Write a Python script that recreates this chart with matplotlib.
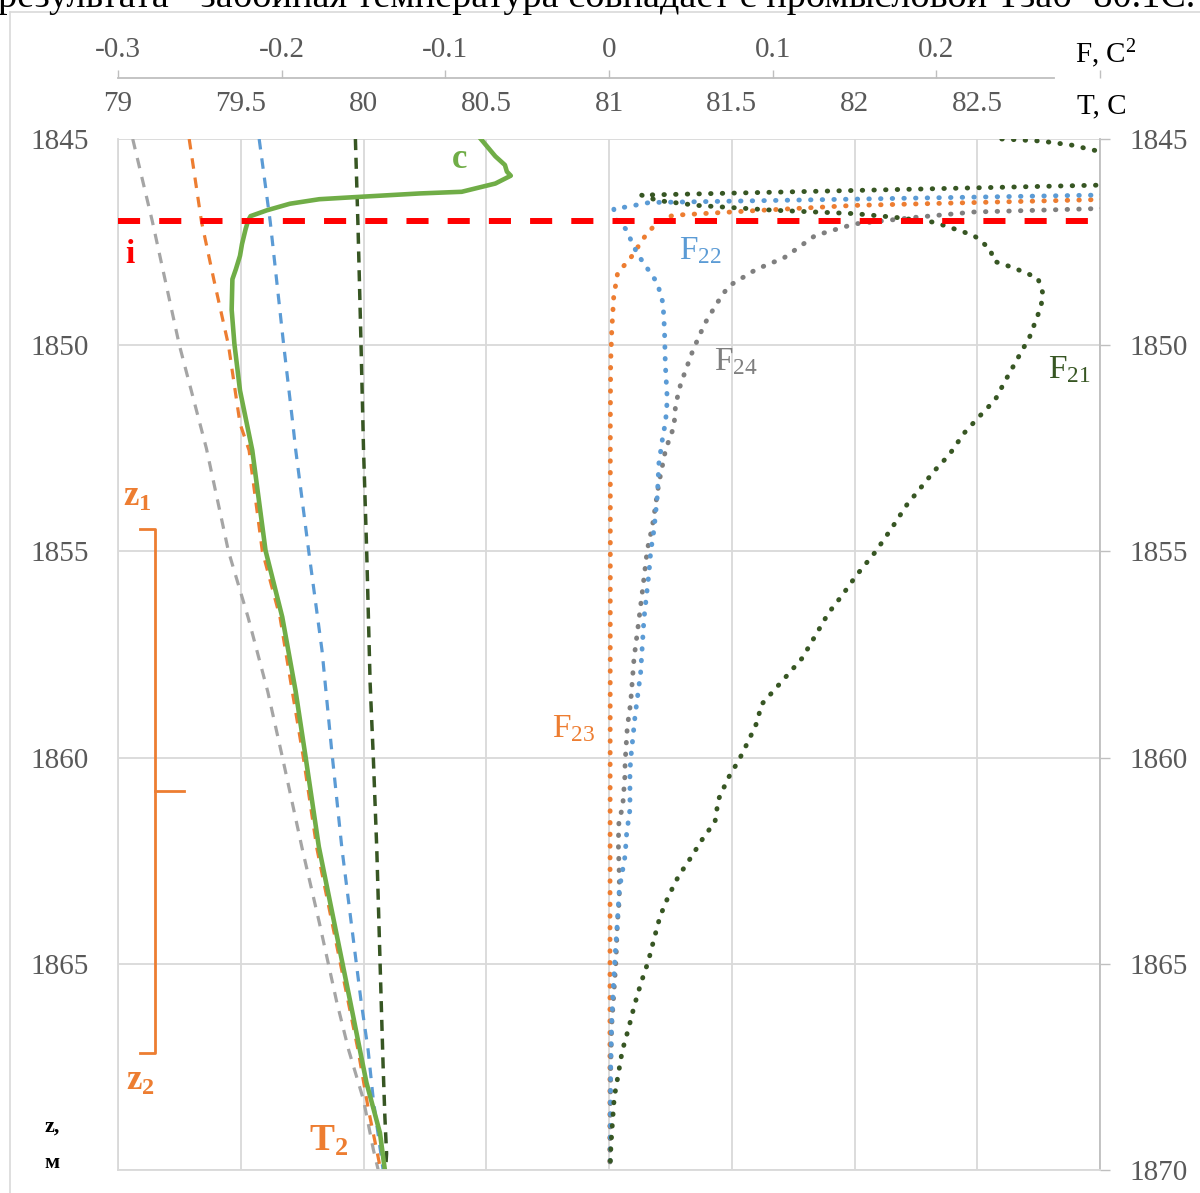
import matplotlib.pyplot as plt
from matplotlib.lines import Line2D

plt.rcParams['font.family'] = 'Liberation Serif'
plt.rcParams['mathtext.fontset'] = 'custom'
plt.rcParams['mathtext.rm'] = 'Liberation Serif'
plt.rcParams['mathtext.it'] = 'Liberation Serif:italic'
plt.rcParams['mathtext.bf'] = 'Liberation Serif:bold'

W, H = 1200, 1193

# axes ticks
t_ticks = [79, 79.5, 80, 80.5, 81, 81.5, 82, 82.5, 83]
t_labels = ['79', '79.5', '80', '80.5', '81', '81.5', '82', '82.5', '']
f_ticks = [-0.3, -0.2, -0.1, 0, 0.1, 0.2, 0.3]
f_labels = ['-0.3', '-0.2', '-0.1', '0', '0.1', '0.2', '']
z_ticks = [1845, 1850, 1855, 1860, 1865, 1870]

# temperature profiles (T, C) vs depth z (m)
z_gray = [1845, 1847, 1850, 1852.5, 1855, 1856.6, 1858.4, 1860, 1862.2, 1864,
          1865.9, 1867.1, 1868.3, 1869.5, 1870]
t_gray = [79.06, 79.14, 79.25, 79.36, 79.45, 79.53, 79.61, 79.67, 79.75, 79.82,
          79.89, 79.94, 80.0, 80.04, 80.06]

z_orange = [1845, 1847, 1848.4, 1850, 1851.9, 1852.55, 1855, 1856.6, 1858.4, 1860,
            1862.2, 1865.9, 1867.1, 1868.5, 1869.7, 1870]
t_orange = [79.29, 79.34, 79.39, 79.45, 79.497, 79.534, 79.588, 79.66, 79.71, 79.755,
            79.81, 79.937, 79.978, 80.019, 80.06, 80.07]

z_blue = [1845, 1847, 1850, 1852, 1852.5, 1855, 1857.4, 1859.8, 1862.2, 1865.9,
          1867.1, 1868.3, 1870]
t_blue = [79.575, 79.62, 79.675, 79.714, 79.723, 79.777, 79.831, 79.87, 79.912, 79.99,
          80.019, 80.04, 80.08]

z_dkgreen = [1845, 1847.2, 1850, 1852.5, 1855, 1858.2, 1860, 1862.2, 1866.1, 1867.5,
             1868.7, 1869.6, 1870]
t_dkgreen = [79.967, 79.978, 79.99, 80.0, 80.013, 80.027, 80.04, 80.054, 80.073, 80.08,
             80.087, 80.094, 80.09]

z_c = [1845.0, 1845.42, 1845.63, 1845.79, 1845.89, 1846.08, 1846.28, 1846.32, 1846.41,
       1846.46, 1846.57, 1846.73, 1846.87, 1846.98, 1847.18, 1847.55, 1847.83, 1848.16,
       1848.4, 1849.14, 1849.96, 1851.1, 1852.55, 1854.98, 1856.59, 1858.37, 1859.98,
       1862.16, 1865.86, 1867.88, 1869.1, 1870]
t_c = [80.478, 80.537, 80.576, 80.584, 80.6, 80.537, 80.4, 80.23, 79.963,
       79.82, 79.7, 79.606, 79.54, 79.53, 79.52, 79.505, 79.497, 79.48,
       79.466, 79.463, 79.474, 79.497, 79.547, 79.601, 79.669, 79.723, 79.764,
       79.818, 79.944, 80.012, 80.067, 80.087]

z_i = 1847.0

# F functions (C^2) vs depth
z_f21 = [1845.0, 1845.05, 1845.15, 1845.27, 1845.5, 1846.0, 1846.12, 1846.36, 1846.49,
         1846.61, 1846.73, 1846.81, 1846.9, 1847.02, 1847.34, 1847.67, 1847.96, 1848.12,
         1848.37, 1848.73, 1849.06, 1849.8, 1850.37, 1850.87, 1851.32, 1851.74, 1852.13,
         1852.65, 1853.06, 1853.48, 1853.87, 1854.42, 1855.0, 1855.59, 1856.09, 1856.5,
         1856.98, 1857.59, 1858.18, 1858.72, 1859.13, 1859.57, 1860.06, 1860.49, 1861.02,
         1861.55, 1861.97, 1862.42, 1862.88, 1863.37, 1863.85, 1864.4, 1864.94, 1865.47,
         1866.01, 1866.56, 1867.11, 1867.67, 1868.24, 1868.8, 1869.4, 1870.0]
f21 = [0.24, 0.264, 0.283, 0.296, 0.33, 0.34, 0.298, 0.0198, 0.0295,
       0.0537, 0.102, 0.15, 0.175, 0.199, 0.223, 0.233, 0.235, 0.247,
       0.262, 0.265, 0.264, 0.257, 0.249, 0.242, 0.236, 0.226, 0.217,
       0.208, 0.1985, 0.19, 0.182, 0.173, 0.163, 0.151, 0.142, 0.134,
       0.127, 0.118, 0.105, 0.093, 0.0906, 0.0855, 0.0794, 0.0729, 0.0668,
       0.0648, 0.0572, 0.0501, 0.0424, 0.0362, 0.0312, 0.0275, 0.024, 0.0195,
       0.0155, 0.012, 0.0081, 0.0057, 0.0032, 0.0022, 0.0012, 0.0006]

z_f22 = [1846.25, 1846.36, 1846.54, 1846.65, 1846.69, 1846.94, 1847.18, 1847.79, 1848.49,
         1848.98, 1849.63, 1850.45, 1851.32, 1851.84, 1852.29, 1852.86, 1853.67, 1854.47,
         1855.0, 1855.53, 1856.62, 1857.95, 1859.0, 1860.06, 1860.4, 1861.26, 1861.83,
         1862.39, 1863.2, 1864.01, 1864.82, 1865.55, 1866.44, 1867.57, 1870]
f22 = [0.33, 0.298, 0.0247, 0.0102, 0.0029, 0.004, 0.0102, 0.0174, 0.0295,
       0.033, 0.0339, 0.0344, 0.0356, 0.0346, 0.0326, 0.0305, 0.0295, 0.0275,
       0.0255, 0.0244, 0.0214, 0.0193, 0.0159, 0.0132, 0.0128, 0.0128, 0.0108,
       0.0098, 0.0063, 0.0051, 0.0037, 0.0027, 0.0016, 0.001, 0.0006]

z_f23 = [1846.35, 1846.47, 1846.61, 1846.73, 1846.85, 1847.02, 1847.34, 1847.92, 1848.24,
         1848.82, 1849.63, 1850.45, 1851.9, 1855, 1860, 1865, 1870]
f23 = [0.33, 0.298, 0.15, 0.0924, 0.039, 0.0295, 0.0223, 0.0126, 0.0053,
       0.0029, 0.0017, 0.001, 0.0008, 0.0008, 0.0007, 0.0006, 0.0005]

z_f24 = [1846.6, 1846.69, 1846.77, 1846.9, 1847.06, 1847.34, 1847.88, 1848.16, 1848.57,
         1848.98, 1849.47, 1850.12, 1850.94, 1851.44, 1851.97, 1852.53, 1853.34, 1854.39,
         1854.96, 1855.97, 1856.78, 1857.59, 1858.68, 1859.25, 1860.14, 1860.4, 1861.22,
         1861.5, 1862.07, 1862.88, 1863.45, 1864.01, 1864.9, 1865.63, 1866.52, 1867.57, 1870]
f24 = [0.33, 0.296, 0.223, 0.187, 0.15, 0.126, 0.107, 0.09, 0.073,
       0.066, 0.0586, 0.0513, 0.0438, 0.0407, 0.0397, 0.0346, 0.0305, 0.0265,
       0.0234, 0.0204, 0.0179, 0.0153, 0.0132, 0.0112, 0.0098, 0.0098, 0.0083,
       0.0061, 0.0057, 0.0063, 0.0063, 0.0051, 0.0043, 0.0031, 0.0016, 0.001, 0.0006]

ORANGE = '#ED7D31'
BLUE = '#5B9BD5'
LGRAY = '#A5A5A5'
DGRAY = '#7F7F7F'
DKGREEN = '#375623'
GREEN = '#70AD47'
RED = '#FF0000'
TICKC = '#595959'
GRID = '#D9D9D9'

fig = plt.figure(figsize=(W / 100, H / 100), dpi=100)
ax = fig.add_axes([118 / W, 1 - 1170 / H, 982 / W, 1031 / H])
ax2 = ax.twiny()

# T axis (top, no line)
ax.set_xlim(79, 83)
ax.set_ylim(1870, 1845)
ax.set_xticks(t_ticks)
ax.set_xticklabels(t_labels)
ax.set_yticks(z_ticks)
ax.xaxis.tick_top()
ax.tick_params(axis='x', length=0, pad=15.5, labelsize=21, labelcolor=TICKC)
ax.tick_params(axis='y', left=False, right=True, labelleft=True, labelright=True,
               direction='out', length=7, width=1, color='#BFBFBF', pad=14,
               labelsize=21, labelcolor=TICKC)
# the bottom-left corner carries the "z, м" caption instead of 1870
ax.yaxis.get_major_ticks()[-1].label1.set_visible(False)
ax.grid(True, color=GRID, lw=1.3)
ax.set_axisbelow(True)
ax.spines['top'].set_visible(False)
ax.spines['left'].set_color(GRID)
ax.spines['bottom'].set_color(GRID)
ax.spines['right'].set_color('#BFBFBF')
for s in ax.spines.values():
    s.set_linewidth(1.3)

# F axis (secondary, offset above)
ax2.set_xlim(-0.3, 0.3)
ax2.set_xticks(f_ticks)
ax2.set_xticklabels(f_labels)
for s in ['left', 'right', 'bottom']:
    ax2.spines[s].set_visible(False)
ax2.spines['top'].set_position(('outward', 44))
ax2.spines['top'].set_bounds(-0.3, 0.272)
ax2.spines['top'].set_color('#BFBFBF')
ax2.spines['top'].set_linewidth(1.3)
ax2.tick_params(axis='x', direction='out', length=6, width=1, color='#BFBFBF', pad=5,
                labelsize=21, labelcolor=TICKC)

# temperature curves
dash = (0, (3.3, 2.8))
ax.plot(t_gray, z_gray, color=LGRAY, lw=2.3, ls=dash)
ax.plot(t_blue, z_blue, color=BLUE, lw=2.3, ls=dash)
ax.plot(t_dkgreen, z_dkgreen, color=DKGREEN, lw=2.5, ls=(0, (3.2, 2.2)))
ax.plot(t_orange, z_orange, color=ORANGE, lw=2.3, ls=dash)
ax.plot(t_c, z_c, color=GREEN, lw=3.3, solid_joinstyle='round')

# F curves, round dots
dot = dict(lw=3.5, ls=(0, (0.1, 2.3)), dash_capstyle='round')
ax2.plot(f23, z_f23, color=ORANGE, **dot)
ax2.plot(f24, z_f24, color=DGRAY, **dot)
ax2.plot(f22, z_f22, color=BLUE, **dot)
ax2.plot(f21, z_f21, color=DKGREEN, **dot)

ax2.axhline(z_i, color=RED, lw=4.3, ls=(0, (3.7, 3.2)), dash_capstyle='butt', zorder=5)

# curve labels
ax.text(80.39, 1845.5, 'c', color=GREEN, fontsize=25, fontweight='bold', ha='center', va='center')
ax.text(79.05, 1847.8, 'i', color=RED, fontsize=24, fontweight='bold', ha='center', va='center')
ax.text(79.08, 1853.7, r'$\mathbf{z_1}$', color=ORANGE, fontsize=25, ha='center', va='center')
ax.text(79.09, 1867.85, r'$\mathbf{z_2}$', color=ORANGE, fontsize=25, ha='center', va='center')
ax.text(79.86, 1869.3, r'$\mathbf{T_2}$', color=ORANGE, fontsize=27, ha='center', va='center')
ax2.text(0.0556, 1847.7, r'F$_{22}$', color=BLUE, fontsize=24, ha='center', va='center')
ax2.text(0.0776, 1850.4, r'F$_{24}$', color=DGRAY, fontsize=24, ha='center', va='center')
ax2.text(0.2816, 1850.6, r'F$_{21}$', color=DKGREEN, fontsize=24, ha='center', va='center')
ax2.text(-0.0214, 1859.3, r'F$_{23}$', color=ORANGE, fontsize=24, ha='center', va='center')

# bracket for z1..z2
bx, by0, by1, bym = 79.151, 1854.46, 1867.16, 1860.81
ax.plot([79.09, bx, bx, 79.09], [by0, by0, by1, by1], color=ORANGE, lw=2, solid_joinstyle='round')
ax.plot([bx, 79.27], [bym, bym], color=ORANGE, lw=2)

# axis titles
fig.text(1075 / W, 1 - 63 / H, r'F, C$^2$', fontsize=21, color='black', ha='left', va='baseline')
fig.text(1077 / W, 1 - 113 / H, 'T, C', fontsize=21, color='black', ha='left', va='baseline')
fig.text(52 / W, 1 - 1127 / H, 'z,', fontsize=16, fontweight='bold', ha='center', va='center')
fig.text(52 / W, 1 - 1163 / H, 'м', fontsize=16, fontweight='bold', ha='center', va='center')

# frame and cut-off line of page text above
fig.add_artist(Line2D([10 / W, 10 / W], [0, 1 - 12 / H], color=GRID, lw=1.2))
fig.add_artist(Line2D([10 / W, 1], [1 - 12 / H, 1 - 12 / H], color=GRID, lw=1.2))
fig.text(-2 / W, 1 - 7 / H, 'результата - забойная температура совпадает с промысловой Тзаб=80.1С.',
         fontsize=27.5, color='black', ha='left', va='baseline')

fig.savefig('out.png', dpi=100)
